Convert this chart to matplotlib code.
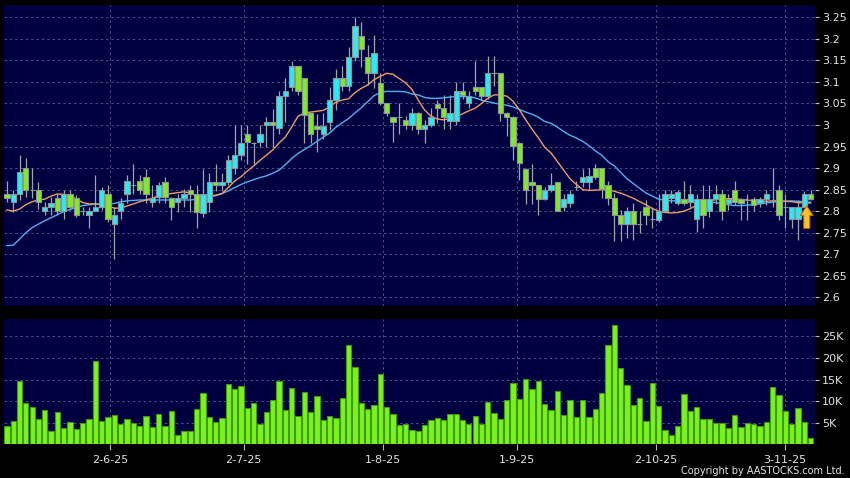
import matplotlib
matplotlib.use("Agg")
import matplotlib.pyplot as plt
import numpy as np

# ---------------- data ----------------
opens = [2.841, 2.821, 2.841, 2.900, 2.850, 2.849, 2.800, 2.810, 2.830, 2.800,
         2.840, 2.830, 2.800, 2.791, 2.800, 2.810, 2.840, 2.770, 2.800, 2.841,
         2.860, 2.869, 2.880, 2.822, 2.834, 2.868, 2.830, 2.822, 2.830, 2.849,
         2.841, 2.795, 2.822, 2.868, 2.860, 2.868, 2.900, 2.930, 2.979, 2.958,
         2.961, 3.000, 3.008, 2.992, 3.067, 3.088, 3.137, 3.108, 3.028, 2.998,
         2.980, 3.007, 3.059, 3.108, 3.090, 3.158, 3.207, 3.158, 3.120, 3.098,
         3.050, 3.019, 3.019, 3.012, 3.000, 3.029, 2.990, 3.000, 3.049, 3.039,
         3.009, 3.009, 3.080, 3.050, 3.089, 3.089, 3.068, 3.120, 3.120, 3.029,
         3.019, 2.959, 2.899, 2.868, 2.860, 2.829, 2.850, 2.868, 2.810, 2.820,
         2.855, 2.868, 2.868, 2.900, 2.900, 2.861, 2.830, 2.790, 2.770, 2.800,
         2.770, 2.810, 2.783, 2.780, 2.800, 2.830, 2.820, 2.828, 2.821, 2.781,
         2.828, 2.800, 2.828, 2.841, 2.820, 2.850, 2.828, 2.825, 2.828, 2.820,
         2.828, 2.825, 2.850, 2.810, 2.781, 2.781, 2.810, 2.841]
highs = [2.869, 2.849, 2.930, 2.923, 2.900, 2.868, 2.822, 2.834, 2.841, 2.849,
         2.849, 2.838, 2.810, 2.810, 2.884, 2.857, 2.861, 2.810, 2.830, 2.884,
         2.910, 2.884, 2.899, 2.860, 2.868, 2.879, 2.833, 2.840, 2.852, 2.860,
         2.860, 2.899, 2.889, 2.910, 2.889, 2.930, 3.000, 3.000, 3.000, 2.960,
         3.000, 3.019, 3.038, 3.080, 3.110, 3.149, 3.137, 3.108, 3.028, 3.026,
         3.028, 3.088, 3.130, 3.138, 3.180, 3.250, 3.240, 3.185, 3.208, 3.120,
         3.050, 3.019, 3.050, 3.020, 3.039, 3.030, 3.012, 3.039, 3.058, 3.070,
         3.070, 3.099, 3.099, 3.080, 3.149, 3.089, 3.160, 3.160, 3.120, 3.030,
         3.020, 2.960, 2.900, 2.910, 2.860, 2.856, 2.889, 2.868, 2.840, 2.850,
         2.870, 2.899, 2.900, 2.910, 2.900, 2.870, 2.842, 2.802, 2.810, 2.818,
         2.800, 2.826, 2.810, 2.840, 2.850, 2.850, 2.850, 2.870, 2.860, 2.840,
         2.860, 2.860, 2.860, 2.850, 2.841, 2.870, 2.830, 2.840, 2.833, 2.833,
         2.850, 2.900, 2.860, 2.840, 2.810, 2.825, 2.848, 2.850]
lows = [2.822, 2.799, 2.826, 2.834, 2.830, 2.806, 2.791, 2.791, 2.791, 2.781,
        2.803, 2.787, 2.790, 2.760, 2.800, 2.803, 2.776, 2.690, 2.781, 2.820,
        2.840, 2.840, 2.820, 2.810, 2.820, 2.820, 2.779, 2.798, 2.810, 2.798,
        2.760, 2.787, 2.798, 2.848, 2.848, 2.860, 2.887, 2.918, 2.910, 2.910,
        2.950, 2.950, 2.950, 2.980, 3.007, 3.080, 3.070, 2.958, 2.958, 2.937,
        2.968, 2.988, 3.034, 3.080, 3.080, 3.148, 3.134, 3.092, 3.085, 3.046,
        3.020, 2.960, 2.980, 2.990, 2.988, 2.980, 2.959, 2.996, 3.004, 2.990,
        2.990, 3.000, 3.060, 3.039, 3.070, 3.058, 3.060, 3.090, 3.010, 2.975,
        2.919, 2.872, 2.817, 2.817, 2.790, 2.825, 2.845, 2.800, 2.800, 2.810,
        2.850, 2.856, 2.850, 2.875, 2.830, 2.814, 2.730, 2.730, 2.737, 2.733,
        2.750, 2.768, 2.760, 2.775, 2.800, 2.818, 2.815, 2.815, 2.810, 2.752,
        2.760, 2.787, 2.817, 2.780, 2.802, 2.815, 2.780, 2.780, 2.800, 2.810,
        2.814, 2.810, 2.780, 2.760, 2.760, 2.732, 2.810, 2.825]
closes = [2.830, 2.841, 2.890, 2.850, 2.850, 2.822, 2.810, 2.820, 2.800, 2.840,
          2.810, 2.791, 2.800, 2.800, 2.810, 2.850, 2.781, 2.791, 2.820, 2.869,
          2.860, 2.850, 2.841, 2.830, 2.861, 2.834, 2.810, 2.830, 2.841, 2.841,
          2.799, 2.841, 2.868, 2.860, 2.868, 2.919, 2.930, 2.959, 2.961, 2.958,
          2.979, 3.008, 3.000, 3.067, 3.080, 3.137, 3.080, 3.023, 2.980, 2.990,
          2.998, 3.059, 3.108, 3.090, 3.158, 3.230, 3.177, 3.120, 3.167, 3.050,
          3.028, 3.007, 3.019, 3.000, 3.029, 2.990, 3.000, 3.019, 3.039, 3.019,
          3.029, 3.080, 3.070, 3.068, 3.080, 3.068, 3.120, 3.120, 3.029, 3.019,
          2.951, 2.911, 2.850, 2.860, 2.829, 2.850, 2.860, 2.800, 2.829, 2.841,
          2.855, 2.879, 2.882, 2.880, 2.851, 2.830, 2.790, 2.770, 2.800, 2.770,
          2.770, 2.791, 2.783, 2.800, 2.841, 2.841, 2.845, 2.820, 2.841, 2.828,
          2.790, 2.828, 2.841, 2.800, 2.828, 2.821, 2.820, 2.825, 2.814, 2.828,
          2.841, 2.825, 2.790, 2.810, 2.810, 2.810, 2.841, 2.828]
ma_short = [2.803, 2.800, 2.805, 2.815, 2.822, 2.826, 2.828, 2.835, 2.840, 2.839,
            2.836, 2.828, 2.820, 2.817, 2.817, 2.815, 2.812, 2.807, 2.807, 2.812,
            2.817, 2.822, 2.826, 2.830, 2.836, 2.838, 2.841, 2.843, 2.845, 2.842,
            2.835, 2.834, 2.836, 2.837, 2.841, 2.855, 2.870, 2.880, 2.893, 2.905,
            2.918, 2.930, 2.942, 2.958, 2.972, 2.995, 3.020, 3.028, 3.030, 3.032,
            3.034, 3.042, 3.053, 3.058, 3.061, 3.075, 3.085, 3.093, 3.105, 3.113,
            3.120, 3.118, 3.108, 3.098, 3.083, 3.058, 3.035, 3.021, 3.014, 3.012,
            3.015, 3.019, 3.026, 3.033, 3.039, 3.050, 3.062, 3.070, 3.070, 3.067,
            3.055, 3.035, 3.012, 2.990, 2.970, 2.948, 2.935, 2.915, 2.895, 2.875,
            2.862, 2.850, 2.848, 2.849, 2.850, 2.850, 2.846, 2.842, 2.836, 2.830,
            2.822, 2.815, 2.806, 2.800, 2.797, 2.796, 2.797, 2.800, 2.806, 2.814,
            2.820, 2.824, 2.827, 2.828, 2.829, 2.829, 2.827, 2.826, 2.824, 2.823,
            2.823, 2.824, 2.824, 2.823, 2.822, 2.820, 2.819, 2.819]
ma_long = [2.720, 2.721, 2.735, 2.750, 2.762, 2.770, 2.778, 2.785, 2.792, 2.799,
           2.804, 2.809, 2.813, 2.815, 2.816, 2.816, 2.817, 2.818, 2.822, 2.824,
           2.825, 2.826, 2.826, 2.826, 2.826, 2.826, 2.826, 2.826, 2.826, 2.826,
           2.828, 2.830, 2.833, 2.836, 2.841, 2.847, 2.855, 2.862, 2.868, 2.873,
           2.878, 2.882, 2.888, 2.895, 2.908, 2.922, 2.934, 2.943, 2.952, 2.962,
           2.972, 2.981, 2.995, 3.005, 3.015, 3.028, 3.040, 3.054, 3.068, 3.075,
           3.078, 3.078, 3.078, 3.077, 3.072, 3.070, 3.064, 3.062, 3.062, 3.063,
           3.065, 3.066, 3.066, 3.066, 3.063, 3.058, 3.054, 3.051, 3.048, 3.046,
           3.042, 3.036, 3.030, 3.025, 3.018, 3.008, 3.004, 2.995, 2.985, 2.976,
           2.970, 2.962, 2.952, 2.940, 2.930, 2.915, 2.905, 2.890, 2.875, 2.864,
           2.853, 2.842, 2.835, 2.828, 2.825, 2.824, 2.824, 2.824, 2.824, 2.824,
           2.824, 2.823, 2.820, 2.817, 2.815, 2.813, 2.813, 2.814, 2.815, 2.817,
           2.819, 2.821, 2.822, 2.823, 2.824, 2.823, 2.822, 2.821]
volume_k = [4.4, 5.5, 14.8, 9.6, 8.8, 5.9, 8.0, 3.1, 7.5, 3.9,
            5.2, 3.6, 5.0, 6.0, 19.4, 5.5, 6.3, 6.9, 4.7, 5.9,
            5.0, 4.4, 6.6, 4.2, 7.2, 4.4, 7.7, 2.3, 3.2, 3.2,
            8.2, 12.0, 6.5, 5.2, 6.2, 14.0, 12.9, 13.5, 8.5, 9.6,
            4.8, 7.5, 10.3, 14.6, 8.0, 13.2, 6.6, 12.2, 7.5, 11.3,
            5.8, 6.7, 6.2, 10.9, 23.1, 18.0, 9.6, 8.2, 9.2, 16.4,
            8.6, 7.1, 4.5, 4.8, 3.3, 3.2, 4.5, 5.7, 6.2, 5.7,
            7.2, 7.2, 5.7, 4.7, 6.7, 4.7, 9.9, 7.4, 5.9, 10.3,
            14.3, 10.6, 15.1, 12.8, 14.8, 9.5, 8.0, 12.4, 6.9, 10.3,
            6.3, 10.3, 6.3, 8.2, 11.9, 22.9, 27.7, 17.7, 13.7, 9.2,
            10.9, 5.5, 14.2, 8.9, 3.5, 2.2, 4.3, 11.6, 7.8, 8.7,
            5.9, 5.9, 5.0, 5.0, 3.9, 6.8, 4.2, 5.0, 4.8, 4.3,
            5.3, 13.3, 11.4, 7.8, 4.8, 8.5, 5.3, 1.6]
date_tick_pos = [16.3, 37.4, 59.5, 80.6, 102.6, 122.9]
date_tick_labels = ["2-6-25", "2-7-25", "1-8-25", "1-9-25", "2-10-25", "3-11-25"]
price_ticks = [2.6, 2.65, 2.7, 2.75, 2.8, 2.85, 2.9, 2.95, 3.0, 3.05, 3.1, 3.15, 3.2, 3.25]
vol_ticks = [5, 10, 15, 20, 25]
vol_tick_labels = ["5K", "10K", "15K", "20K", "25K"]

# ---------------- style ----------------
BG_OUT = "#000000"
BG_IN = "#000040"
GRID = "#50508a"
UP = "#2ee8f2"
DOWN = "#84e82a"
EDGE = "#8c9696"
WICK = "#a0a6a6"
VOL = "#7af21e"
VOL_EDGE = "#3f9a10"
TXT = "#e4e4e4"

plt.rcParams["font.family"] = ["DejaVu Sans"]

o = np.array(opens); h = np.array(highs); l = np.array(lows); c = np.array(closes)
x = np.arange(len(o))
up = c >= o

fig = plt.figure(figsize=(8.5, 4.78), dpi=100, facecolor=BG_OUT)
ax = fig.add_axes([4 / 850, 1 - 306 / 478, 811 / 850, 301 / 478])
axv = fig.add_axes([4 / 850, 1 - 443.5 / 478, 811 / 850, 124.5 / 478])

for a in (ax, axv):
    a.set_facecolor(BG_IN)
    for s in a.spines.values():
        s.set_visible(False)
    a.set_xlim(-0.45, 127.7)
    a.grid(True, color=GRID, linestyle=(0, (2.5, 3)), linewidth=0.7)
    a.set_axisbelow(True)
    a.set_xticks(date_tick_pos)
    a.yaxis.tick_right()
    a.tick_params(axis="y", colors="#b8b8b8", labelcolor=TXT, length=3,
                  width=0.8, pad=2, labelsize=8)

# price panel
ax.set_ylim(2.5799, 3.2786)
ax.set_yticks(price_ticks)
ax.set_yticklabels(["%g" % t for t in price_ticks])
ax.tick_params(axis="x", length=0, labelbottom=False)

ax.vlines(x, l, h, color=WICK, linewidth=0.9, zorder=2)
ax.plot(x, ma_long, color="#4fb2ee", linewidth=1.0, zorder=3)
ax.plot(x, ma_short, color="#ee9c68", linewidth=1.0, zorder=3)
bottoms = np.minimum(o, c)
heights = np.abs(c - o)
ax.bar(x, heights, 0.84, bottom=bottoms, color=np.where(up, UP, DOWN),
       edgecolor=EDGE, linewidth=0.8, zorder=4)

# last-signal arrow (yellow up arrow under last bars)
ax.arrow(126.4, 2.760, 0, 0.052, width=0.95, head_width=2.0, head_length=0.022,
         length_includes_head=True, facecolor="#ffc22e", edgecolor="#b87000",
         linewidth=0.8, zorder=6)

# volume panel
axv.set_ylim(0.3, 29.0)
axv.set_yticks(vol_ticks)
axv.set_yticklabels(vol_tick_labels)
axv.bar(x, volume_k, 0.84, color=VOL, edgecolor=VOL_EDGE, linewidth=0.8, zorder=3)
axv.set_xticklabels(date_tick_labels)
axv.tick_params(axis="x", colors="#b8b8b8", labelcolor=TXT, length=4,
                width=0.8, pad=4, labelsize=8)

fig.text(845 / 850, 1 - 471 / 478, "Copyright by AASTOCKS.com Ltd.", color=TXT,
         fontsize=7, ha="right", va="center")

fig.savefig("out.png", dpi=100, facecolor=BG_OUT)
